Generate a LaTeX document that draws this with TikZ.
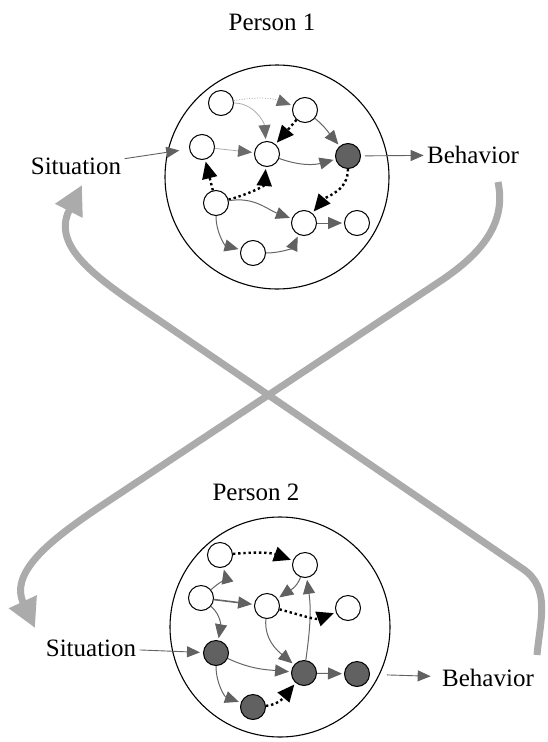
\documentclass[tikz,border=0pt]{standalone}
\usepackage{fontspec}
\setmainfont{Liberation Serif}
\usetikzlibrary{arrows.meta}
\begin{document}
\begin{tikzpicture}[x=1pt,y=1pt,
  lbl/.style={font=\fontsize{25}{30}\selectfont},
  nd/.style={circle,draw=black,line width=1pt,minimum size=25pt,inner sep=0pt,fill=white},
  dk/.style={nd,fill=black!62},
  bigc/.style={circle,draw=black,line width=1.1pt,inner sep=0pt},
  ge/.style={draw=black!60,line width=1pt,-{Triangle[length=14pt,width=12pt,color=black!62,fill=black!62]},shorten >=2pt},
  le/.style={draw=black!32,line width=.8pt,-{Triangle[length=14pt,width=12pt,color=black!58,fill=black!58]},shorten >=2pt},
  ldot/.style={le,dash pattern=on 1pt off 1.6pt},
  de/.style={draw=black,line width=2.4pt,dash pattern=on 2.4pt off 2.8pt,-{Triangle[length=17pt,width=15pt]},shorten >=2pt},
  thinarr/.style={draw=black!62,line width=.9pt,-{Triangle[length=13pt,width=11pt]}},
  bigarr/.style={draw=black!33,line width=7pt,-{Triangle[length=29pt,width=29pt]}}
]
\useasboundingbox (0,0) rectangle (547,-742);

% big feedback arrows
\coordinate (s1) at (498,-182);
\coordinate (m1a) at (439,-282);
\coordinate (m1b) at (110,-500);
\coordinate (t1) at (35,-628);
\coordinate (s2) at (537,-655);
\coordinate (m2a) at (523,-569);
\coordinate (m2b) at (163,-323);
\coordinate (t2) at (82,-185);
\draw[bigarr] (s1) to[out=-78,in=33.5] (m1a) -- (m1b) to[out=213.5,in=115,looseness=1.1] (t1);
\draw[bigarr] (s2) to[out=85,in=-34.3] (m2a) -- (m2b) to[out=145.7,in=-117,looseness=1.15] (t2);

% labels
\node[lbl] (p1) at (272,-22) {Person 1};
\node[lbl] (p2) at (256,-492) {Person 2};
\node[lbl] (sit1) at (76,-166) {Situation};
\node[lbl] (beh1) at (473,-155) {Behavior};
\node[lbl] (sit2) at (91,-648) {Situation};
\node[lbl] (beh2) at (488,-678) {Behavior};

% big circles
\node[bigc,minimum size=224pt] (c1) at (277,-177) {};
\node[bigc,minimum size=220pt] (c2) at (280,-627) {};

% Person 1 nodes
\node[nd] (A) at (221,-103) {};
\node[nd] (B) at (305,-110) {};
\node[nd] (C) at (202,-147) {};
\node[nd] (D) at (267,-154) {};
\node[dk] (E) at (348,-156) {};
\node[nd] (F) at (216,-203) {};
\node[nd] (G) at (304,-223) {};
\node[nd] (H) at (357,-223) {};
\node[nd] (I) at (253,-253) {};

\draw[ldot] (A) to[bend left=15] (B);
\draw[le] (A) to[out=0,in=95] (D);
\draw[ge] (B) to[out=-40,in=130] (E);
\draw[de] (B) -- (D);
\draw[le] (C) -- (D);
\draw[ge] (D) to[out=-20,in=195] (E);
\draw[de] (F) -- (C);
\draw[de] (F) to[out=15,in=-95] (D);
\draw[de] (E) to[out=-90,in=50] (G);
\draw[ge] (F) to[out=10,in=160] (G);
\draw[ge] (F) to[out=-90,in=165] (I);
\draw[ge] (I) to[out=0,in=-115] (G);
\draw[ge] (G) -- (H);
\draw[thinarr,shorten >=10pt] (sit1) -- (C);
\draw[thinarr,shorten <=4pt] (E) -- (beh1);

% Person 2 nodes
\node[nd] (a) at (220,-555) {};
\node[nd] (b) at (305,-565) {};
\node[nd] (c) at (201,-598) {};
\node[nd] (d) at (267,-606) {};
\node[nd] (e) at (348,-608) {};
\node[dk] (f) at (216,-653) {};
\node[dk] (g) at (304,-673) {};
\node[dk] (h) at (357,-674) {};
\node[dk] (i) at (253,-707) {};

\draw[de] (a) to[out=5,in=160] (b);
\draw[ge] (c) to[out=40,in=-75] (a);
\draw[ge,line width=1.6pt] (c) -- (d);
\draw[ge] (c) to[out=-40,in=80] (f);
\draw[ge] (b) to[out=-110,in=35] (d);
\draw[ge] (g) to[out=82,in=-82] (b);
\draw[de] (d) to[out=-15,in=200] (e);
\draw[ge] (d) to[out=-95,in=140] (g);
\draw[ge] (f) to[out=-25,in=175] (g);
\draw[ge] (f) to[out=-90,in=160] (i);
\draw[de] (i) to[out=5,in=-130] (g);
\draw[ge] (g) -- (h);
\draw[thinarr,shorten >=3pt] (sit2) -- (f);
\draw[thinarr,shorten <=17pt,shorten >=8pt] (h) -- (beh2);
\end{tikzpicture}
\end{document}
